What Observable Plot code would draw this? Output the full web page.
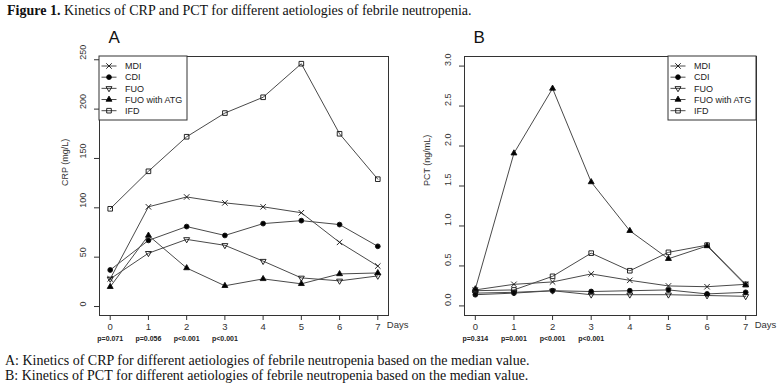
<!DOCTYPE html>
<html>
<head>
<meta charset="utf-8">
<script src="https://cdn.jsdelivr.net/npm/d3@7"></script>
<script src="https://cdn.jsdelivr.net/npm/@observablehq/plot@0.6"></script>
<style>
  html, body { margin: 0; padding: 0; background: #fff; }
  #wrap { position: relative; width: 782px; height: 388px; overflow: hidden; font-family: "Liberation Serif", "Times New Roman", serif; }
  #title { position: absolute; left: 7px; top: 3px; font-size: 14px; color: #111; white-space: nowrap; }
  #panelA { position: absolute; left: 0; top: 24px; }
  #panelB { position: absolute; left: 392px; top: 24px; }
  .cap { position: absolute; left: 5px; font-size: 14px; color: #111; white-space: nowrap; }
</style>
</head>
<body>
<div id="wrap">
  <div id="title"><b>Figure 1.</b> Kinetics of CRP and PCT for different aetiologies of febrile neutropenia.</div>
  <div id="panelA"></div>
  <div id="panelB"></div>
  <div class="cap" style="top:353px">A: Kinetics of CRP for different aetiologies of febrile neutropenia based on the median value.</div>
  <div class="cap" style="top:368px">B: Kinetics of PCT for different aetiologies of febrile neutropenia based on the median value.</div>
</div>
<script>
// ---- data ----
const days = [0, 1, 2, 3, 4, 5, 6, 7];
const seriesNames = ["MDI", "CDI", "FUO", "FUO with ATG", "IFD"];

const crpMDI = [28, 101, 111, 105, 101, 95, 65, 41];
const crpCDI = [37, 67, 81, 72, 84, 87, 83, 61];
const crpFUO = [28, 54, 68, 62, 46, 29, 26, 31];
const crpATG = [20, 72, 39, 21, 28, 23, 33, 34];
const crpIFD = [99, 137, 172, 196, 212, 246, 175, 129];

const pctMDI = [0.20, 0.27, 0.30, 0.40, 0.32, 0.25, 0.24, 0.27];
const pctCDI = [0.14, 0.16, 0.19, 0.18, 0.19, 0.20, 0.15, 0.17];
const pctFUO = [0.16, 0.17, 0.19, 0.14, 0.14, 0.14, 0.13, 0.12];
const pctATG = [0.21, 1.91, 2.72, 1.55, 0.94, 0.59, 0.75, 0.26];
const pctIFD = [0.19, 0.20, 0.37, 0.66, 0.44, 0.67, 0.76, 0.27];

const crpTicks = [0, 50, 100, 150, 200, 250];
const pctTicks = [0, 0.5, 1, 1.5, 2, 2.5, 3];
const pvalA = ["p=0.071", "p=0.056", "p<0.001", "p<0.001"];
const pvalB = ["p=0.314", "p=0.001", "p<0.001", "p<0.001"];

// ---- marker styles (R pch 4, 19, 6, 17, 0) ----
const styles = [
  {symbol: "times", fill: "none", rotate: 0, r: 2.6},
  {symbol: "circle", fill: "black", rotate: 0, r: 2.4},
  {symbol: "triangle", fill: "none", rotate: 180, r: 2.2},
  {symbol: "triangle", fill: "black", rotate: 0, r: 2.2},
  {symbol: "square", fill: "none", rotate: 0, r: 2.6}
];

const LINE = "#4a4a4a";
const INK = "#222";

function panel({series, yDomain, yTicks, yFmt, yLabel, yLabelDx, letter, pvals, width, mL, mR, legendRight}) {
  const marks = [];
  series.forEach((vals) => {
    marks.push(Plot.line(vals, {x: (d, i) => days[i], y: d => d, stroke: LINE, strokeWidth: 1}));
  });
  series.forEach((vals, k) => {
    const s = styles[k];
    marks.push(Plot.dot(vals, {x: (d, i) => days[i], y: d => d, symbol: s.symbol, fill: s.fill,
      stroke: "#111", strokeWidth: 0.9, r: s.r, rotate: s.rotate}));
  });
  marks.push(
    Plot.frame({stroke: "#333", strokeWidth: 1}),
    Plot.axisX({ticks: days, tickSize: 5, tickPadding: 3, tickFormat: d => d, label: null, fontSize: 9.5, color: "#333", stroke: "#333"}),
    Plot.axisY({ticks: yTicks, tickSize: 5, tickFormat: () => "", label: null, stroke: "#333"}),
    Plot.text(yTicks, {y: d => d, text: d => yFmt(d), frameAnchor: "left", dx: -16, rotate: -90, fontSize: 9, fill: "#333"}),
    Plot.text([yLabel], {frameAnchor: "left", dx: yLabelDx, rotate: -90, fontSize: 9, fill: "#333"}),
    Plot.text(["Days"], {x: [7], frameAnchor: "bottom", dy: 12, dx: 9, textAnchor: "start", fontSize: 9.5, fill: "#333"}),
    Plot.text(pvals, {x: (d, i) => days[i], text: d => d, frameAnchor: "bottom", dy: 25, fontSize: 7, fontWeight: "bold", fill: INK}),
    Plot.text([letter], {frameAnchor: "top-left", dx: 9, dy: -26, fontSize: 17, fill: "#111", textAnchor: "start"})
  );
  const svg = Plot.plot({
    width, height: 328, marginLeft: mL, marginRight: mR, marginTop: 32, marginBottom: 37,
    x: {domain: [-0.28, 7.28]},
    y: {domain: yDomain},
    style: {fontFamily: "'Liberation Sans', Arial, sans-serif", background: "transparent", overflow: "visible"},
    marks
  });
  // legend (R-style box in the corner of the plotting region)
  const s = d3.select(svg);
  const fx0 = mL, fx1 = width - mR, fy0 = 32;
  const lw = 88, lh = 64;
  const lx = legendRight ? fx1 - lw : fx0;
  const g = s.append("g").attr("transform", `translate(${lx},${fy0})`);
  g.append("rect").attr("x", 0).attr("y", 0).attr("width", lw).attr("height", lh)
    .attr("fill", "white").attr("stroke", "#333");
  const rowY = d3.scalePoint().domain(seriesNames).range([10, 54.7]);
  seriesNames.forEach((name, k) => {
    const st = styles[k];
    const y = rowY(name);
    g.append("line").attr("x1", 2.5).attr("x2", 17.5).attr("y1", y).attr("y2", y).attr("stroke", LINE);
    const typ = {times: d3.symbolTimes, circle: d3.symbolCircle, triangle: d3.symbolTriangle, square: d3.symbolSquare}[st.symbol];
    g.append("path").attr("d", d3.symbol(typ, Math.PI * st.r * st.r)())
      .attr("transform", `translate(10,${y}) rotate(${st.rotate})`)
      .attr("fill", st.fill).attr("stroke", "#111").attr("stroke-width", 0.9);
    g.append("text").attr("x", 26).attr("y", y).attr("dy", "0.35em").attr("font-size", 9)
      .attr("text-anchor", "start").attr("fill", "#222").text(name);
  });
  return svg;
}

document.getElementById("panelA").append(panel({
  series: [crpMDI, crpCDI, crpFUO, crpATG, crpIFD],
  yDomain: [-9.1, 253.3], yTicks: crpTicks, yFmt: d => String(d), yLabel: "CRP (mg/L)", yLabelDx: -34,
  letter: "A", pvals: pvalA, width: 392, mL: 99, mR: 4, legendRight: false
}));
document.getElementById("panelB").append(panel({
  series: [pctMDI, pctCDI, pctFUO, pctATG, pctIFD],
  yDomain: [-0.12, 3.12], yTicks: pctTicks, yFmt: d => d.toFixed(1), yLabel: "PCT (ng/mL)", yLabelDx: -37,
  letter: "B", pvals: pvalB, width: 390, mL: 72, mR: 26, legendRight: true
}));
</script>
</body>
</html>
